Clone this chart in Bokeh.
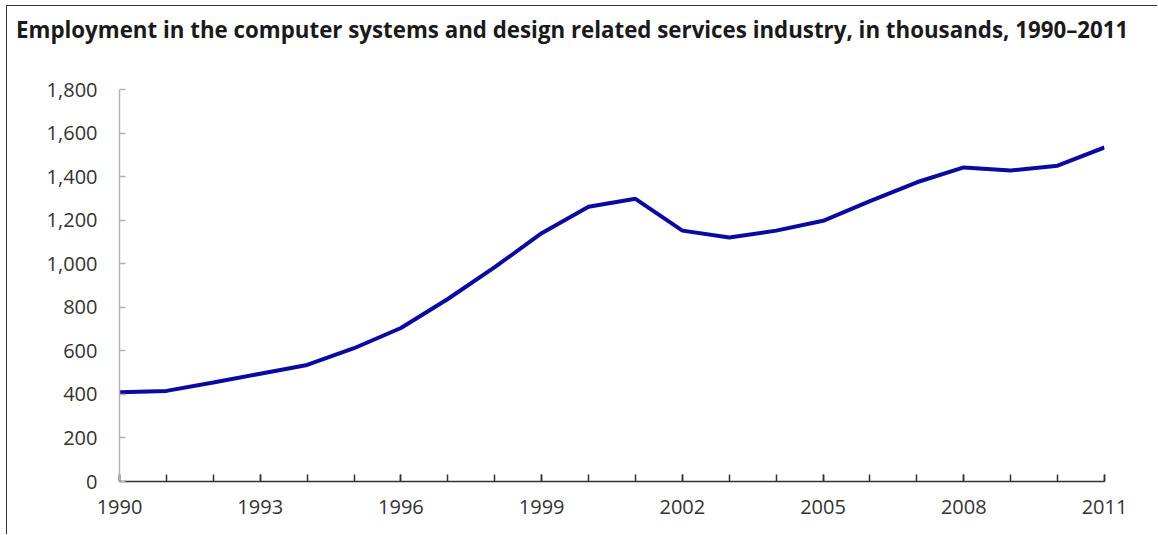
from bokeh.plotting import figure
from bokeh.models import Range1d, FixedTicker, NumeralTickFormatter, Div
from bokeh.layouts import column
from bokeh.embed import file_html
from bokeh.resources import INLINE

title_text = "Employment in the computer systems and design related services industry, in thousands, 1990\u20132011"
years = list(range(1990, 2012))
employment = [410, 416, 455, 495, 535, 612, 705, 838, 984, 1140, 1262,
              1298, 1152, 1120, 1152, 1197, 1287, 1374, 1442, 1428, 1450, 1534]
x_label_years = [1990, 1993, 1996, 1999, 2002, 2005, 2008, 2011]
y_ticks = [0, 200, 400, 600, 800, 1000, 1200, 1400, 1600, 1800]

title_div = Div(text=title_text, width=1150, height=60, margin=0,
                styles={"font-family": "Open Sans", "font-size": "22.3px", "font-weight": "bold",
                        "color": "#1a1a1a", "padding-left": "9px", "padding-top": "8px",
                        "box-sizing": "border-box", "white-space": "nowrap"})

p = figure(width=1150, height=468, output_backend="svg", toolbar_location=None,
           x_range=Range1d(1990, 2011), y_range=Range1d(0, 1800),
           min_border_left=112, min_border_right=53, min_border_top=23, min_border_bottom=53,
           margin=0)

p.outline_line_color = None
p.xgrid.grid_line_color = None
p.ygrid.grid_line_color = None

p.line(years, employment, line_color="#0a0aa0", line_width=4)

xa = p.xaxis[0]
xa.ticker = FixedTicker(ticks=x_label_years, minor_ticks=years)
xa.axis_line_color = "#333333"
xa.axis_line_width = 1.5
xa.major_tick_in = 7
xa.major_tick_out = 0
xa.minor_tick_in = 7
xa.minor_tick_out = 0
xa.major_tick_line_color = "#333333"
xa.minor_tick_line_color = "#333333"
xa.major_tick_line_width = 1.5
xa.minor_tick_line_width = 1.5
xa.major_label_text_font = "Open Sans"
xa.major_label_text_font_size = "20px"
xa.major_label_text_color = "#333333"
xa.major_label_standoff = 18

ya = p.yaxis[0]
ya.ticker = FixedTicker(ticks=y_ticks, minor_ticks=[])
ya.formatter = NumeralTickFormatter(format="0,0")
ya.axis_line_color = "#b3b3b3"
ya.axis_line_width = 1.5
ya.major_tick_in = 6
ya.major_tick_out = 0
ya.major_tick_line_color = "#b3b3b3"
ya.major_tick_line_width = 1.5
ya.major_label_text_font = "Open Sans"
ya.major_label_text_font_size = "20px"
ya.major_label_text_color = "#333333"
ya.major_label_standoff = 22

layout = column(title_div, p, spacing=0,
                styles={"margin-left": "6px", "margin-top": "5px",
                        "border-top": "1.5px solid #333333", "border-left": "1.5px solid #333333"})

open("out.html", "w").write(file_html(layout, INLINE))
